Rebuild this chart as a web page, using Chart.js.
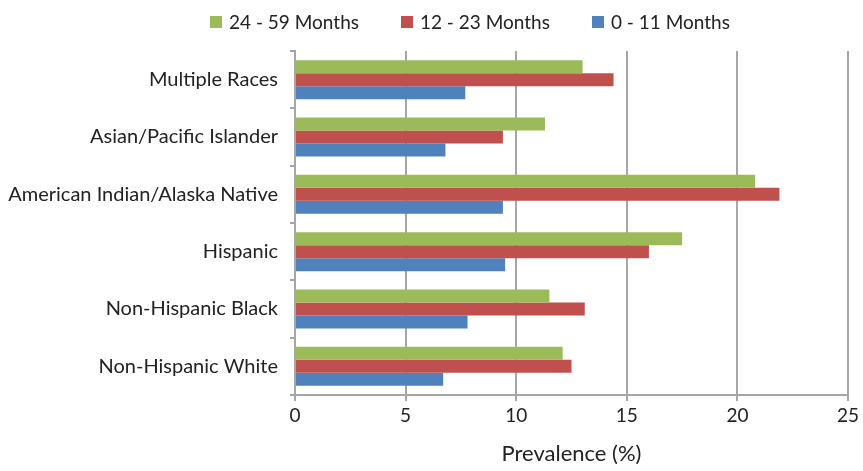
<!DOCTYPE html>
<html lang="en">
<head>
<meta charset="utf-8" />
<title>Prevalence by race and age</title>
<script src="https://cdn.jsdelivr.net/npm/chart.js@4"></script>
<style>
  html, body { margin: 0; padding: 0; background: #fff; }
  #wrap { position: relative; width: 863px; height: 471px; }
  #legend {
    position: absolute; left: 210px; top: 10px;
    display: flex; font-family: Lato, 'Open Sans', sans-serif;
    font-size: 19px; color: #222; line-height: 24px;
  }
  #legend .item { display: flex; align-items: center; margin-right: 42px; }
  #legend .box { width: 12px; height: 12px; margin-right: 7px; }
</style>
</head>
<body>
<div id="wrap">
  <div id="legend"></div>
  <canvas id="chart" width="863" height="471"></canvas>
</div>
<script>
// categories, top to bottom
const groups = [
  "Multiple Races",
  "Asian/Pacific Islander",
  "American Indian/Alaska Native",
  "Hispanic",
  "Non-Hispanic Black",
  "Non-Hispanic White"
];
const seriesNames = ["24 - 59 Months", "12 - 23 Months", "0 - 11 Months"];
const seriesColors = ["#9bbb59", "#c0504d", "#4f81bd"];
const months24to59 = [13.0, 11.3, 20.8, 17.5, 11.5, 12.1];
const months12to23 = [14.4, 9.4, 21.9, 16.0, 13.1, 12.5];
const months0to11 = [7.7, 6.8, 9.4, 9.5, 7.8, 6.7];
const xTicks = [0, 5, 10, 15, 20, 25];

const gridGray = "#a6a6a6";
const font = "Lato, 'Open Sans', sans-serif";

// html legend
const legendEl = document.getElementById("legend");
seriesNames.forEach((name, i) => {
  legendEl.innerHTML += `<div class="item"><span class="box" style="background:${seriesColors[i]}"></span>${name}</div>`;
});

new Chart(document.getElementById("chart"), {
  type: "bar",
  data: {
    labels: groups,
    datasets: [
      { label: seriesNames[0], data: months24to59, backgroundColor: seriesColors[0] },
      { label: seriesNames[1], data: months12to23, backgroundColor: seriesColors[1] },
      { label: seriesNames[2], data: months0to11, backgroundColor: seriesColors[2] }
    ]
  },
  options: {
    indexAxis: "y",
    responsive: false,
    animation: false,
    layout: { padding: { top: 51, right: 15, bottom: 0, left: 0 } },
    datasets: { bar: { categoryPercentage: 0.68, barPercentage: 1.0 } },
    plugins: {
      legend: { display: false },
      tooltip: { enabled: false }
    },
    scales: {
      x: {
        min: 0,
        max: 25,
        afterBuildTicks: (s) => { s.ticks = xTicks.map(v => ({ value: v })); },
        afterFit: (s) => { s.height = 76; },
        grid: { color: gridGray, lineWidth: 2, tickLength: 6 },
        border: { color: gridGray, width: 2 },
        ticks: { color: "#222", padding: 3, font: { family: font, size: 19 } },
        title: {
          display: true,
          text: "Prevalence (%)",
          color: "#222",
          padding: { top: 19 },
          font: { family: font, size: 22 }
        }
      },
      y: {
        afterFit: (s) => { s.width = 295; },
        grid: { offset: true, drawOnChartArea: false, color: gridGray, lineWidth: 2, tickLength: 5 },
        border: { color: gridGray, width: 2 },
        ticks: { color: "#222", padding: 12, font: { family: font, size: 20 } }
      }
    }
  }
});
</script>
</body>
</html>
